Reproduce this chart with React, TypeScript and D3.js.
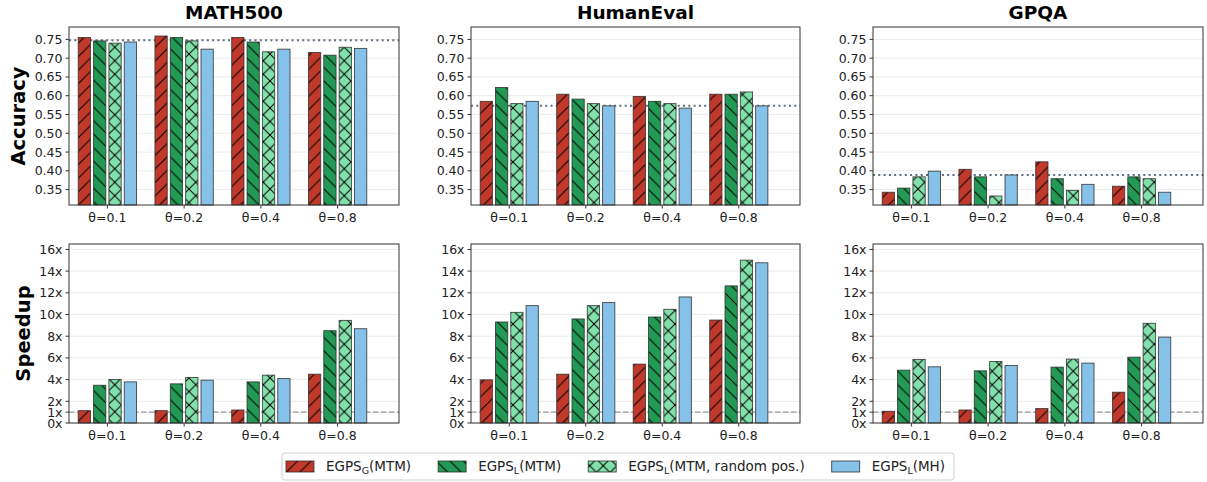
import { useEffect, useRef } from 'react'
import * as d3 from 'd3'

document.body.style.margin = '0'

const thetaLabels = ['θ=0.1', 'θ=0.2', 'θ=0.4', 'θ=0.8']
const datasetNames = ['MATH500', 'HumanEval', 'GPQA']

// legend text: EGPS<sub>(suffix)
const methodSubs = ['G', 'L', 'L', 'L']
const methodSuffixes = ['(MTM)', '(MTM)', '(MTM, random pos.)', '(MH)']

// one row per method: G(MTM), L(MTM), L(MTM random pos.), L(MH)
const math500Accuracy = [
  [0.755, 0.759, 0.755, 0.715],
  [0.746, 0.755, 0.743, 0.708],
  [0.74, 0.746, 0.717, 0.729],
  [0.743, 0.724, 0.724, 0.726],
]
const humanEvalAccuracy = [
  [0.585, 0.604, 0.598, 0.604],
  [0.622, 0.591, 0.585, 0.604],
  [0.579, 0.579, 0.579, 0.61],
  [0.585, 0.573, 0.567, 0.573],
]
const gpqaAccuracy = [
  [0.343, 0.404, 0.424, 0.359],
  [0.354, 0.384, 0.379, 0.384],
  [0.384, 0.333, 0.348, 0.379],
  [0.399, 0.389, 0.364, 0.343],
]
const accuracyBaselines = [0.748, 0.573, 0.389]

const math500Speedup = [
  [1.14, 1.14, 1.2, 4.5],
  [3.48, 3.61, 3.79, 8.51],
  [4.01, 4.19, 4.41, 9.46],
  [3.79, 3.95, 4.1, 8.69],
]
const humanEvalSpeedup = [
  [3.98, 4.5, 5.43, 9.49],
  [9.31, 9.59, 9.77, 12.64],
  [10.2, 10.82, 10.48, 15.01],
  [10.82, 11.1, 11.62, 14.77],
]
const gpqaSpeedup = [
  [1.08, 1.2, 1.33, 2.84],
  [4.87, 4.81, 5.15, 6.07],
  [5.86, 5.67, 5.89, 9.19],
  [5.18, 5.3, 5.52, 7.92],
]
const speedupBaseline = 1

const accuracyTicks = [0.35, 0.4, 0.45, 0.5, 0.55, 0.6, 0.65, 0.7, 0.75]
const speedupTicks = [0, 1, 2, 4, 6, 8, 10, 12, 14, 16]

const colors = ['#c0392b', '#229954', '#82e0aa', '#85c1e9']
const hatches = ['/', '\\', 'x', '']

const W = 1207
const H = 482
const FONT = 'DejaVu Sans, sans-serif'
const colX: [number, number][] = [[69, 399], [471, 800], [873, 1203]]
const rowY: [number, number][] = [[27, 205], [244, 423]]

export default function App() {
  const svgRef = useRef<SVGSVGElement>(null)

  useEffect(() => {
    if (!svgRef.current) return
    const svg = d3.select(svgRef.current)
    svg.selectAll('*').remove()

    // hatch patterns
    const s = 13.5
    const defs = svg.append('defs')
    colors.forEach((c, i) => {
      const p = defs
        .append('pattern')
        .attr('id', `pat-${i}`)
        .attr('patternUnits', 'userSpaceOnUse')
        .attr('width', s)
        .attr('height', s)
      p.append('rect').attr('width', s).attr('height', s).attr('fill', c)
      const fwd = `M0,${s} L${s},0 M${-s / 2},${s / 2} L${s / 2},${-s / 2} M${s / 2},${1.5 * s} L${1.5 * s},${s / 2}`
      const back = `M0,0 L${s},${s} M${-s / 2},${s / 2} L${s / 2},${1.5 * s} M${s / 2},${-s / 2} L${1.5 * s},${s / 2}`
      let d = ''
      if (hatches[i] === '/') d = fwd
      if (hatches[i] === '\\') d = back
      if (hatches[i] === 'x') d = fwd + ' ' + back
      if (d) p.append('path').attr('d', d).attr('stroke', '#000').attr('stroke-width', 1).attr('fill', 'none')
    })

    const accData = [math500Accuracy, humanEvalAccuracy, gpqaAccuracy]
    const spdData = [math500Speedup, humanEvalSpeedup, gpqaSpeedup]

    const drawPanel = (
      col: number,
      row: number,
      series: number[][],
      ticks: number[],
      domain: [number, number],
      fmt: (v: number) => string,
      refValue: number,
    ) => {
      const [x0, x1] = colX[col]
      const [y0, y1] = rowY[row]
      const x = d3.scaleLinear().domain([-0.5, 3.8]).range([x0, x1])
      const y = d3.scaleLinear().domain(domain).range([y1, y0])
      const g = svg.append('g')

      // grid
      g.selectAll('line.grid')
        .data(ticks)
        .join('line')
        .attr('x1', x0)
        .attr('x2', x1)
        .attr('y1', (d) => y(d))
        .attr('y2', (d) => y(d))
        .attr('stroke', '#ebebeb')
        .attr('stroke-width', 1)

      // reference line (behind bars)
      const top = row === 0
      g.append('line')
        .attr('x1', x0)
        .attr('x2', x1)
        .attr('y1', y(refValue))
        .attr('y2', y(refValue))
        .attr('stroke', top ? '#5d6d7e' : '#9a9a9a')
        .attr('stroke-width', top ? 2 : 1.4)
        .attr('stroke-dasharray', top ? '2,3.3' : '5.5,2.5')

      // bars
      const bw = 0.16
      const offsets = [-0.3, -0.1, 0.1, 0.3]
      series.forEach((vals, m) => {
        g.selectAll(`rect.m${m}`)
          .data(vals)
          .join('rect')
          .attr('x', (_, i) => x(i + offsets[m] - bw / 2))
          .attr('width', x(bw) - x(0))
          .attr('y', (v) => y(v))
          .attr('height', (v) => y1 - y(v))
          .attr('fill', `url(#pat-${m})`)
          .attr('stroke', '#2b2b2b')
          .attr('stroke-opacity', 0.85)
          .attr('stroke-width', 0.9)
      })

      // frame
      g.append('rect')
        .attr('x', x0)
        .attr('y', y0)
        .attr('width', x1 - x0)
        .attr('height', y1 - y0)
        .attr('fill', 'none')
        .attr('stroke', '#333')
        .attr('stroke-width', 1)

      // y ticks
      const yt = g.selectAll('g.yt').data(ticks).join('g')
      yt.append('line')
        .attr('x1', x0 - 3.5)
        .attr('x2', x0)
        .attr('y1', (d) => y(d))
        .attr('y2', (d) => y(d))
        .attr('stroke', '#333')
      yt.append('text')
        .attr('x', x0 - 6.5)
        .attr('y', (d) => y(d))
        .attr('dy', '0.36em')
        .attr('text-anchor', 'end')
        .attr('font-family', FONT)
        .attr('font-size', 12.5)
        .attr('fill', '#222')
        .text((d) => fmt(d))

      // x ticks
      const xt = g.selectAll('g.xt').data(thetaLabels).join('g')
      xt.append('line')
        .attr('x1', (_, i) => x(i))
        .attr('x2', (_, i) => x(i))
        .attr('y1', y1)
        .attr('y2', y1 + 3.5)
        .attr('stroke', '#333')
      xt.append('text')
        .attr('x', (_, i) => x(i))
        .attr('y', y1 + 17)
        .attr('text-anchor', 'middle')
        .attr('font-family', FONT)
        .attr('font-size', 12.5)
        .attr('fill', '#222')
        .text((d) => d)
    }

    datasetNames.forEach((name, c) => {
      drawPanel(c, 0, accData[c], accuracyTicks, [0.309, 0.783], (v) => v.toFixed(2), accuracyBaselines[c])
      drawPanel(c, 1, spdData[c], speedupTicks, [0, 16.5], (v) => `${v}x`, speedupBaseline)
      svg
        .append('text')
        .attr('x', (colX[c][0] + colX[c][1]) / 2)
        .attr('y', 19)
        .attr('text-anchor', 'middle')
        .attr('font-family', FONT)
        .attr('font-weight', 'bold')
        .attr('font-size', 18.5)
        .attr('fill', '#000')
        .text(name)
    })

    // y labels
    const ylab = (text: string, bx: number, row: number) =>
      svg
        .append('text')
        .attr('transform', `translate(${bx},${(rowY[row][0] + rowY[row][1]) / 2}) rotate(-90)`)
        .attr('text-anchor', 'middle')
        .attr('font-family', FONT)
        .attr('font-weight', 'bold')
        .attr('font-size', 19.5)
        .attr('fill', '#000')
        .text(text)
    ylab('Accuracy', 25, 0)
    ylab('Speedup', 30, 1)

    // legend
    const lg = svg.append('g')
    const box = lg.append('rect')
    const cy = 466.5
    let cx = 0
    colors.forEach((_, i) => {
      lg.append('rect')
        .attr('x', cx)
        .attr('y', cy - 5.5)
        .attr('width', 28)
        .attr('height', 11)
        .attr('fill', `url(#pat-${i})`)
        .attr('stroke', '#2b2b2b')
        .attr('stroke-opacity', 0.85)
        .attr('stroke-width', 0.9)
      const t = lg
        .append('text')
        .attr('x', cx + 40)
        .attr('y', cy + 4.8)
        .attr('font-family', FONT)
        .attr('font-size', 13.5)
        .attr('fill', '#222')
      t.append('tspan').text('EGPS')
      t.append('tspan').attr('dy', 3).attr('font-size', 9.5).text(methodSubs[i])
      t.append('tspan').attr('dy', -3).text(methodSuffixes[i])
      const tw = (t.node() as SVGTextElement).getComputedTextLength()
      cx = cx + 40 + tw + (i < colors.length - 1 ? 27 : 0)
    })
    const total = cx
    const bx0 = 618 - (total + 13) / 2
    lg.attr('transform', `translate(${bx0 + 4},0)`)
    box
      .attr('x', -4)
      .attr('y', 453)
      .attr('width', total + 13)
      .attr('height', 27)
      .attr('rx', 3)
      .attr('fill', '#fff')
      .attr('stroke', '#d0d0d0')
      .attr('stroke-width', 1)
  }, [])

  return <svg ref={svgRef} width={W} height={H} style={{ display: 'block' }} />
}
